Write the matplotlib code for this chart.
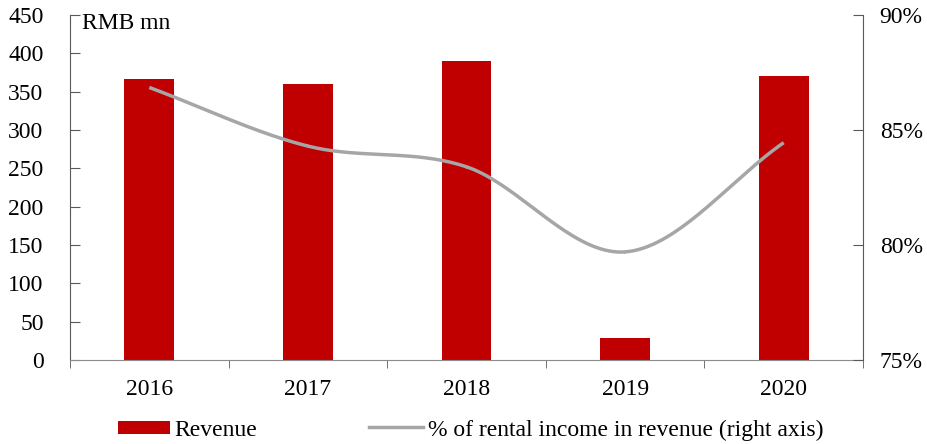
import numpy as np
import matplotlib
matplotlib.use("Agg")
import matplotlib.pyplot as plt
from matplotlib.ticker import FuncFormatter
from matplotlib.patches import Patch
from matplotlib.lines import Line2D

years = ["2016", "2017", "2018", "2019", "2020"]
revenue = [366, 360, 390, 29, 370]
rental_pct = [86.85, 84.3, 83.4, 79.7, 84.45]

plt.rcParams['font.family'] = ['Liberation Serif', 'DejaVu Serif']
FS = 17

fig = plt.figure(figsize=(9.27, 4.44), dpi=100)
ax = fig.add_axes([70/927, 1-360/444, (863-70)/927, (360-15)/444])
x = np.arange(len(years))
ax.bar(x, revenue, width=0.315, color="#c00000", zorder=2)
ax.set_xlim(-0.5, len(years)-0.5)
ax.set_ylim(0, 450)
ax.set_yticks(np.arange(0, 451, 50))
ax.set_xticks(x)
ax.set_xticklabels(years)
ax.set_xticks(np.arange(-0.5, len(years), 1.0), minor=True)
ax.tick_params(axis='x', which='major', length=0, pad=13.5, labelsize=FS)
ax.tick_params(axis='x', which='minor', length=6, direction='out', color='#595959')
ax.tick_params(axis='y', direction='in', length=7, labelsize=FS, color='#595959', pad=19)
for s in ['top', 'right']:
    ax.spines[s].set_visible(False)
ax.spines['left'].set_color('#595959')
ax.spines['bottom'].set_color('#8c8c8c')
ax.text(0.015, 1.005, "RMB mn", transform=ax.transAxes, fontsize=FS, va='top', ha='left')

ax2 = ax.twinx()
ax2.set_ylim(75, 90)
ax2.set_yticks([75, 80, 85, 90])
ax2.yaxis.set_major_formatter(FuncFormatter(lambda v, p: f"{v:.0f}%"))
ax2.tick_params(axis='y', direction='in', length=7, labelsize=FS, color='#595959', pad=12)
for s in ['top', 'left', 'bottom']:
    ax2.spines[s].set_visible(False)
ax2.spines['right'].set_color('#595959')

# Catmull-Rom smoothing (Excel-like smoothed line)
px = x.astype(float)
py = np.array(rental_pct, dtype=float)
P = np.column_stack([px, py])
P_ext = np.vstack([2*P[0]-P[1], P, 2*P[-1]-P[-2]])
xs, ys = [], []
for i in range(1, len(P_ext)-2):
    p0, p1, p2, p3 = P_ext[i-1], P_ext[i], P_ext[i+1], P_ext[i+2]
    t = np.linspace(0, 1, 40)[:, None]
    c = 0.5*((2*p1) + (-p0+p2)*t + (2*p0-5*p1+4*p2-p3)*t**2 + (-p0+3*p1-3*p2+p3)*t**3)
    xs.extend(c[:, 0]); ys.extend(c[:, 1])
ax2.plot(xs, ys, color="#a6a6a6", lw=2.5, zorder=3, solid_capstyle='butt')

leg_y = 1 - 430/444
l1 = fig.legend([Patch(facecolor="#c00000")], ["Revenue"], loc='center left',
                bbox_to_anchor=(118/927, leg_y), frameon=False, fontsize=FS,
                handlelength=2.2, handleheight=0.47, handletextpad=0.2,
                borderpad=0, borderaxespad=0)
l2 = fig.legend([Line2D([0], [0], color="#a6a6a6", lw=2.5)],
                ["% of rental income in revenue (right axis)"], loc='center left',
                bbox_to_anchor=(369/927, leg_y), frameon=False, fontsize=FS,
                handlelength=2.3, handletextpad=0.2, borderpad=0, borderaxespad=0)

fig.savefig("out.png", dpi=100)
